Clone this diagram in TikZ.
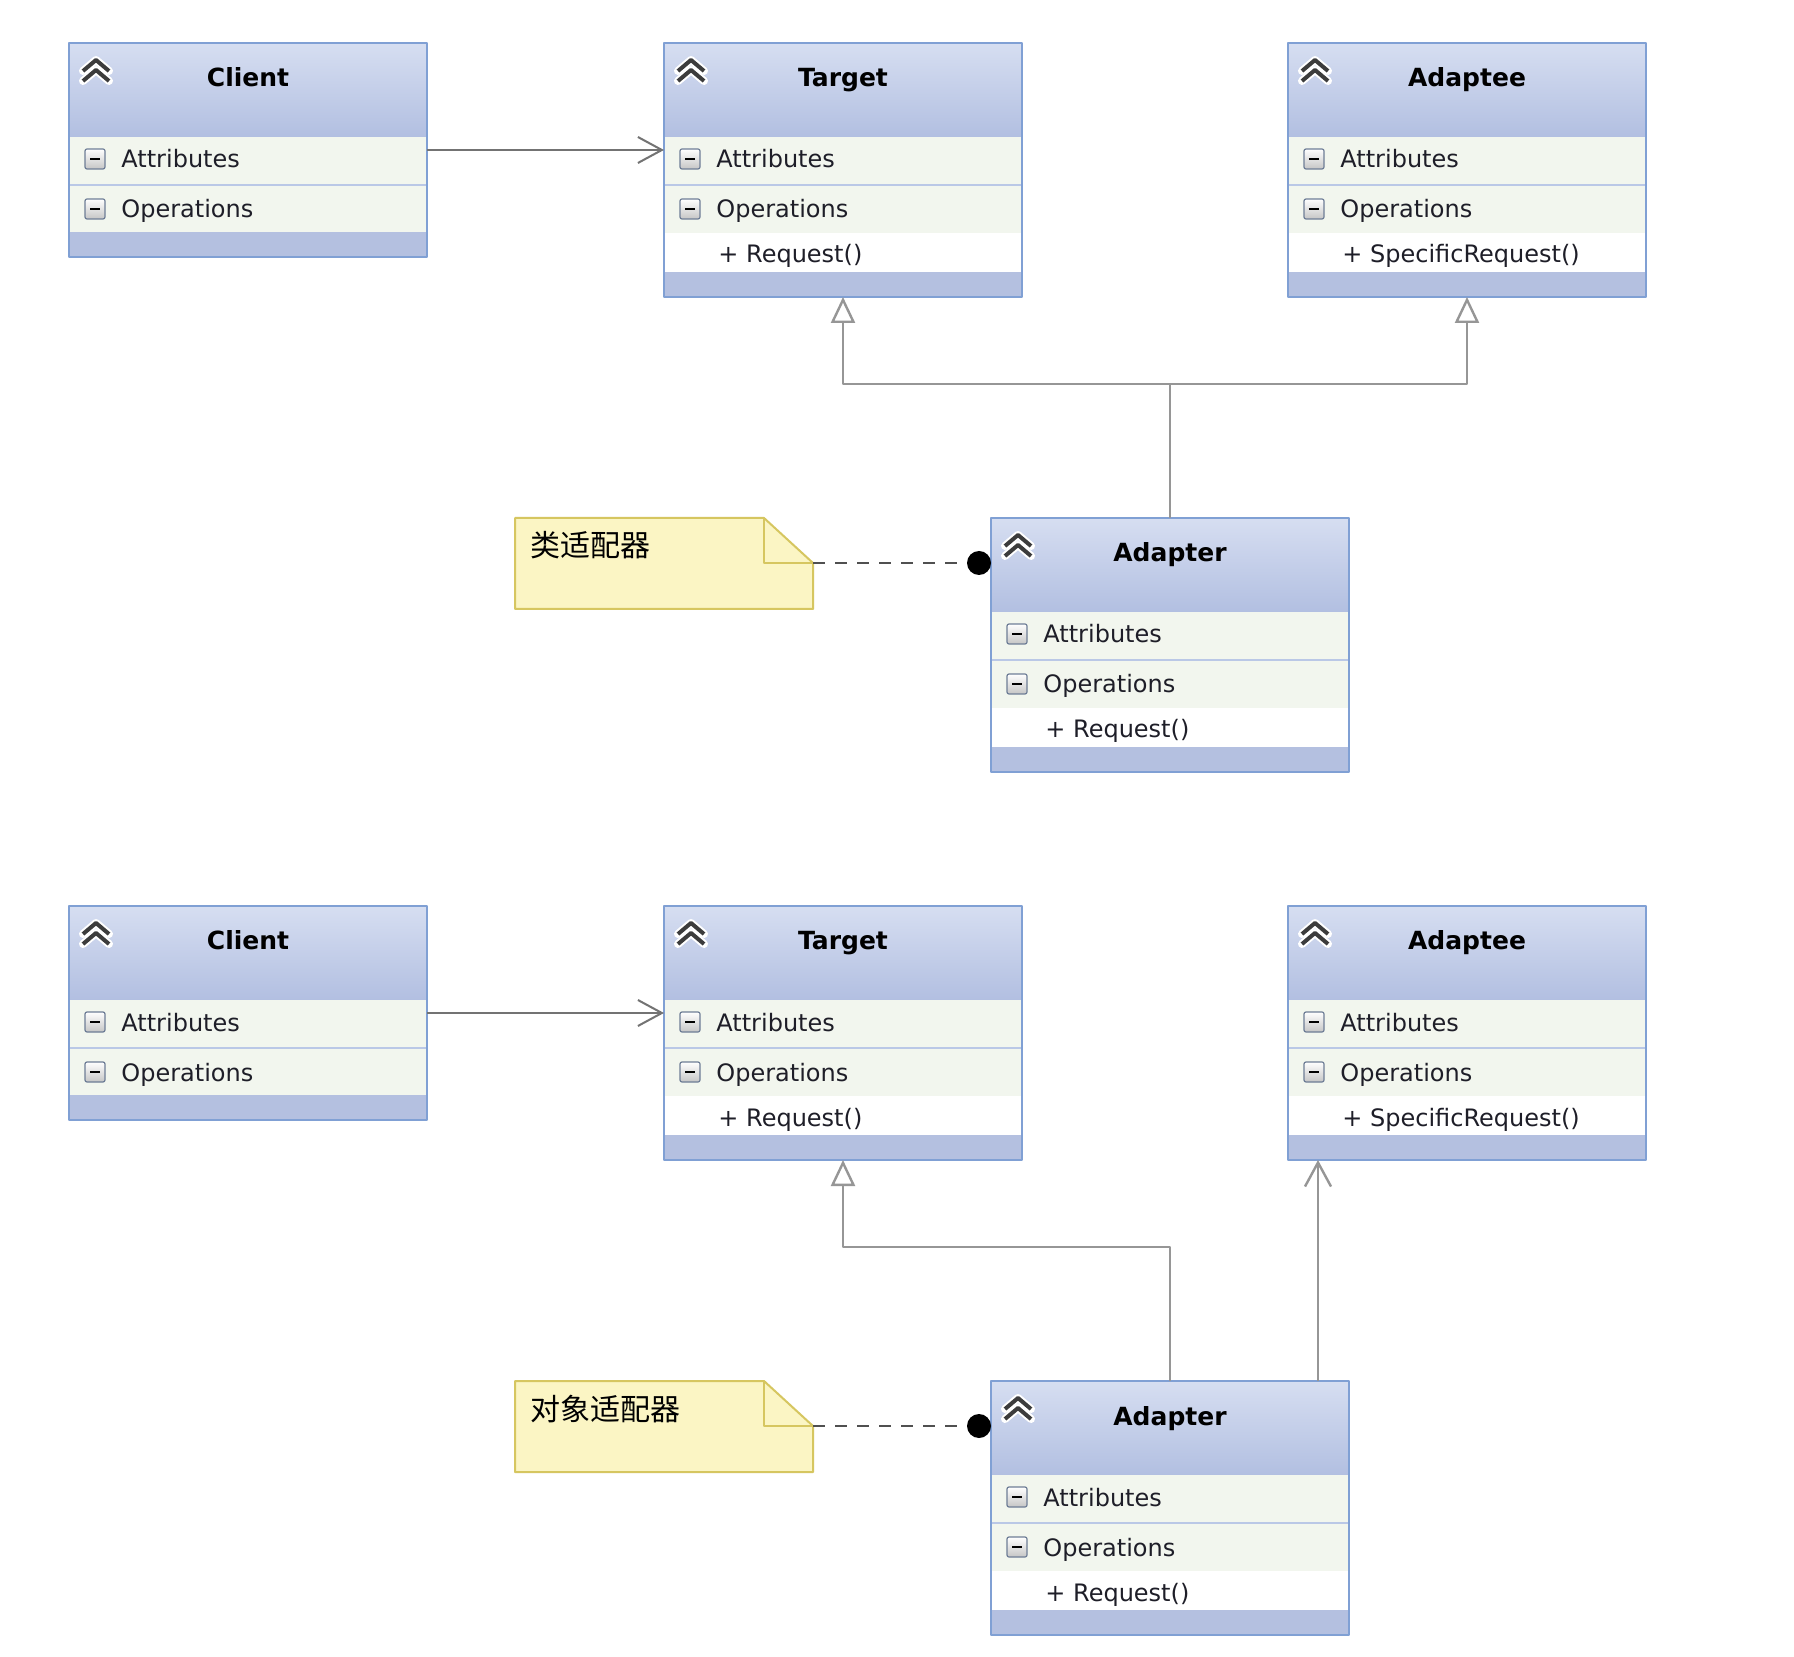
\documentclass[tikz,border=0pt]{standalone}
\usepackage{fontspec}
\setmainfont{DejaVu Sans}
\newfontfamily\cjkfont{Noto Sans CJK SC}
\usetikzlibrary{arrows.meta,calc}
\definecolor{hdtop}{RGB}{214,222,241}
\definecolor{hdbot}{RGB}{178,191,225}
\definecolor{boxedge}{RGB}{128,160,212}
\definecolor{rowfill}{RGB}{242,246,238}
\definecolor{rowsep}{RGB}{186,200,230}
\definecolor{bandfill}{RGB}{180,192,224}
\definecolor{notefill}{RGB}{251,245,196}
\definecolor{noteedge}{RGB}{214,198,96}
\definecolor{textdark}{RGB}{30,30,40}
\definecolor{chevgray}{RGB}{60,60,60}
\definecolor{linegray}{RGB}{115,115,115}
\definecolor{lightline}{RGB}{150,150,150}
\definecolor{darkline}{RGB}{80,80,80}

\newcommand{\umlclass}[5]{%
  \begin{scope}[shift={(#2,#3)}]
    \if\relax\detokenize{#5}\relax\def\boxh{214}\else\def\boxh{254}\fi
    \shade[top color=hdtop,bottom color=hdbot] (0,0) rectangle (358,94);
    \fill[rowfill] (0,94) rectangle (358,190);
    \draw[rowsep,line width=1pt] (0,142) -- (358,142);
    \fill[bandfill] (0,\boxh-25) rectangle (358,\boxh);
    \if\relax\detokenize{#5}\relax\else
      \fill[white] (0,190) rectangle (358,229);
      \node[member] (#1-op) at (54,220) {+ #5};
    \fi
    \foreach \cy in {17,27} \draw[white,line width=4pt,line cap=round] (14,\cy+11) -- (27,\cy) -- (40,\cy+11);
    \foreach \cy in {17,27} \draw[chevgray,line width=2pt] (14,\cy+11) -- (27,\cy) -- (40,\cy+11);
    \foreach \cy in {116,166} {
      \draw[minusbox] (16,\cy-10) rectangle (36,\cy+10);
      \draw[black,line width=1.4pt] (21,\cy) -- (31,\cy);
    }
    \node[classtitle] (#1-title) at (179,44) {#4};
    \node[member] (#1-attr) at (52,125) {Attributes};
    \node[member] (#1-ops) at (52,175) {Operations};
    \node[classbox,minimum height={\boxh*0.5pt}] (#1) at (0,0) {};
  \end{scope}}

\begin{document}
\begin{tikzpicture}[x=0.5pt,y=-0.5pt,line join=round,
  member/.style={anchor=base west,inner sep=0pt,font=\fontsize{12}{14}\selectfont,text=textdark},
  classtitle/.style={anchor=base,inner sep=0pt,font=\fontsize{12.5}{14}\selectfont\bfseries,text=black},
  classbox/.style={rectangle,draw=boxedge,line width=1.4pt,minimum width=179pt,inner sep=0pt,outer sep=0pt,anchor=north west},
  minusbox/.style={draw={rgb,255:red,110;green,125;blue,150},line width=0.6pt,rounded corners=1pt,top color=white,bottom color=gray!45},
  assoc/.style={draw=linegray,line width=1pt,-{Straight Barb[length=12pt,width=13pt]}},
  realize/.style={draw=lightline,line width=1.2pt,-{Triangle[open,length=13pt,width=12pt,fill=white]}},
  notelink/.style={draw=darkline,line width=1.1pt,dash pattern=on 6pt off 5pt},
  pindot/.style={circle,fill=black,inner sep=0pt,minimum size=12pt},
  notetext/.style={anchor=base west,inner sep=0pt,font=\cjkfont\fontsize{15}{18}\selectfont}]
  \path[use as bounding box,fill=white] (0,0) rectangle (1794,1657);
  \foreach \p/\dy/\txt in {A/0/类适配器,B/863/对象适配器} {
    \begin{scope}[shift={(0,\dy)}]
      \umlclass{client\p}{69}{43}{Client}{}
      \umlclass{target\p}{664}{43}{Target}{Request()}
      \umlclass{adaptee\p}{1288}{43}{Adaptee}{SpecificRequest()}
      \umlclass{adapter\p}{991}{518}{Adapter}{Request()}
      \filldraw[fill=notefill,draw=noteedge,line width=1pt] (515,518) -- (764,518) -- (813,563) -- (813,609) -- (515,609) -- cycle;
      \draw[noteedge,line width=1pt] (764,518) -- (764,563) -- (813,563);
      \node[notetext] (note\p) at (530,557) {\txt};
      \coordinate (fold\p) at (813,563);
      \node[pindot] (dot\p) at (979,563) {};
      \draw[notelink] (fold\p) -- (dot\p);
      \draw[assoc] (client\p.east) -- (client\p.east -| target\p.west);
      \draw[realize] (adapter\p.north) -- ++(0,-134) -| (target\p.south);
    \end{scope}
  }
  \draw[realize] (adapterA.north) ++(0,-134) -| (adapteeA.south);
  \draw[assoc,draw=lightline,line width=1.2pt] ([xshift=163.5pt]adapterB.north west) -- ([xshift=15pt]adapteeB.south west);
\end{tikzpicture}
\end{document}
